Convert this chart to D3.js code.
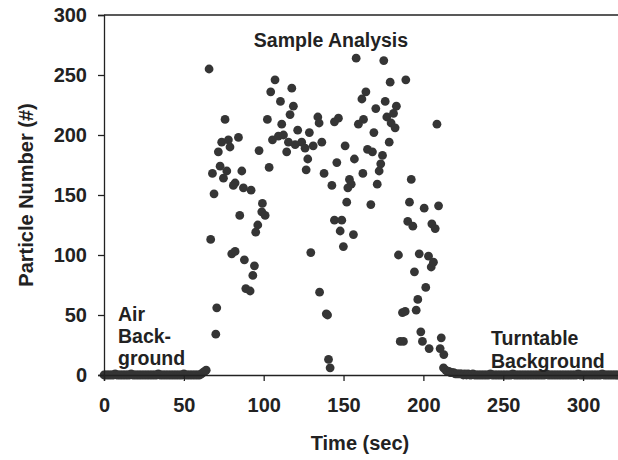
<!DOCTYPE html>
<html>
<head>
<meta charset="utf-8">
<script src="https://cdn.jsdelivr.net/npm/d3@7"></script>
<style>
  html, body { margin: 0; padding: 0; background: #ffffff; }
  svg { display: block; }
  text { font-family: "Liberation Sans", Arial, sans-serif; font-weight: bold; fill: #222; }
</style>
</head>
<body>
<svg id="chart" width="618" height="460"></svg>
<script>
// ---------- data ----------
const xTicks = [0, 50, 100, 150, 200, 250, 300];
const yTicks = [0, 50, 100, 150, 200, 250, 300];

// Air background: one reading per second, starting at t = 0 s
const airStart = 0;
const airCounts = [0,0,0,0,0,0,0,1,0,0,0,0,0,0,0,0,0,1,0,0,0,0,0,0,0,0,0,0,0,0,
                   0,0,0,0,1,0,0,0,0,0,0,0,0,0,0,0,0,0,0,0,1,0,0,0,0,0,0,0,0,0,
                   0,1,2,3,4];

// Sample analysis (time s, particle number)
const sampleTime = [65.8,107.1,117.6,104.4,110.5,118.6,116.5,75.8,102.3,111.3,121.3,128.6,84.2,73.7,77.9,78.9,71.6,97.1,105.5,109.2,
  112.4,114.4,115.5,119.7,123.8,125.9,131,127.6,126.6,103.4,72.7,67.9,76.9,74.8,86.3,82.1,81,87.3,92.1,68.9,
  99.2,98.8,100.9,85,96.3,95,66.8,129.5,80,82.1,87.9,94.2,93.2,88.8,91.5,135,70.6,70,
  157.9,175.2,179.2,189,164,161.5,176.1,170.2,183.1,181.3,177.1,179.8,182.3,133.9,134.7,146.8,144.3,162.5,159.3,169,
  208.5,178.6,136.4,151,165,168.1,174.4,156.8,145.8,173.3,172.3,137.8,162.1,153.7,154.8,152.7,142.7,171.1,152,167.1,
  192.4,191.3,200.5,209.5,144.3,148.9,147.9,156.2,149.9,190.2,193.4,205.3,207.4,184.4,197.4,203.2,204.9,206.3,194.4,201.5,
  196.5,195.5,186.9,188.6,139.2,140,140.6,141.6,185.5,187.5,198.4,199.4,203.6,211.2,210.5,212.6,212.8];
const sampleCount = [255,246,239,236,228,224,217,213,213,209,204,202,198,194,196,190,186,187,196,199,
  200,186,194,192,194,189,191,180,171,173,174,168,170,164,170,160,158,156,154,151,
  143,136,133,133,125,119,113,102,101,103,96,91,83,72,70,69,56,34,
  264,262,244,246,236,230,228,222,224,218,215,210,206,215,210,214,211,213,209,202,
  209,194,194,191,188,186,183,180,177,176,170,168,168,163,159,156,158,159,144,142,
  163,144,139,141,129,129,120,117,107,128,124,126,122,100,101,99,90,94,86,73,
  63,54,52,53,51,50,13,6,28,28,36,28,22,31,22,6,17];

// Turntable background: one reading per second, starting at t = 214 s
const turnStart = 214;
const turnCounts = [4,3,3,2,2,2,1,1,1,1,1,0,1,0,1,0,0,1,0,0,0,0,0,0,0,0,0,0,1,0,
                    0,0,0,0,0,0,0,0,0,0,0,0,1,0,0,0,0,0,0,0,0,0,0,0,0,0,0,0,0,0,
                    0,0,0,1,0,0,0,0,0,0,0,0,0,0,0,0,0,0,0,0,0,0,0,1,0,0,0,0,0,0,
                    0,0,0,0,0,0,0,0,1,0,0,0,0,0,0,0,0,0,0];

// ---------- build points ----------
const points = [];
airCounts.forEach((v, i) => points.push({ t: airStart + i, v }));
sampleTime.forEach((t, i) => points.push({ t, v: sampleCount[i] }));
turnCounts.forEach((v, i) => points.push({ t: turnStart + i, v }));

// ---------- chart ----------
const svg = d3.select("#chart");
const x = d3.scaleLinear().domain([0, 322]).range([104, 618.2]);
const y = d3.scaleLinear().domain([0, 300]).range([375, 15]);

const axisColor = "#222";

// top frame line
svg.append("line")
  .attr("x1", x(0)).attr("x2", 618)
  .attr("y1", y(300)).attr("y2", y(300))
  .attr("stroke", axisColor).attr("stroke-width", 1.3);

// dots
svg.append("g").selectAll("circle")
  .data(points).join("circle")
  .attr("cx", d => x(d.t))
  .attr("cy", d => y(d.v))
  .attr("r", 4.4)
  .attr("fill", "#353535");

// y axis
const yAxis = svg.append("g")
  .attr("transform", `translate(${x(0)},0)`)
  .call(d3.axisLeft(y).tickValues(yTicks).tickSize(6).tickPadding(11).tickFormat(d3.format("d")));
yAxis.select(".domain").attr("stroke", axisColor).attr("stroke-width", 1.3);
yAxis.selectAll(".tick line").attr("stroke", axisColor).attr("stroke-width", 1.3);
yAxis.selectAll(".tick text")
  .style("font-family", "'Liberation Sans', Arial, sans-serif")
  .style("font-weight", "bold").style("font-size", "20px").attr("fill", "#222");

// x axis
const xAxis = svg.append("g")
  .attr("transform", `translate(0,${y(0)})`)
  .call(d3.axisBottom(x).tickValues(xTicks).tickSize(6).tickPadding(17).tickFormat(d3.format("d")));
xAxis.select(".domain").attr("stroke", axisColor).attr("stroke-width", 1.3);
xAxis.selectAll(".tick line").attr("stroke", axisColor).attr("stroke-width", 1.3);
xAxis.selectAll(".tick text")
  .style("font-family", "'Liberation Sans', Arial, sans-serif")
  .style("font-weight", "bold").style("font-size", "20px").attr("fill", "#222");

// axis titles
svg.append("text")
  .attr("x", 360).attr("y", 450)
  .attr("text-anchor", "middle")
  .style("font-size", "20px")
  .text("Time (sec)");

svg.append("text")
  .attr("transform", "translate(33,195) rotate(-90)")
  .attr("text-anchor", "middle")
  .style("font-size", "20px")
  .text("Particle Number (#)");

// annotations
svg.append("text")
  .attr("x", 331).attr("y", 47)
  .attr("text-anchor", "middle")
  .style("font-size", "19.5px")
  .text("Sample Analysis");

const air = svg.append("text").attr("x", 118).style("font-size", "19.5px");
air.append("tspan").attr("x", 118).attr("y", 321).text("Air");
air.append("tspan").attr("x", 118).attr("y", 343).text("Back-");
air.append("tspan").attr("x", 118).attr("y", 365).text("ground");

const turn = svg.append("text").style("font-size", "19.5px");
turn.append("tspan").attr("x", 491).attr("y", 345).text("Turntable");
turn.append("tspan").attr("x", 491).attr("y", 368).text("Background");
</script>
</body>
</html>
